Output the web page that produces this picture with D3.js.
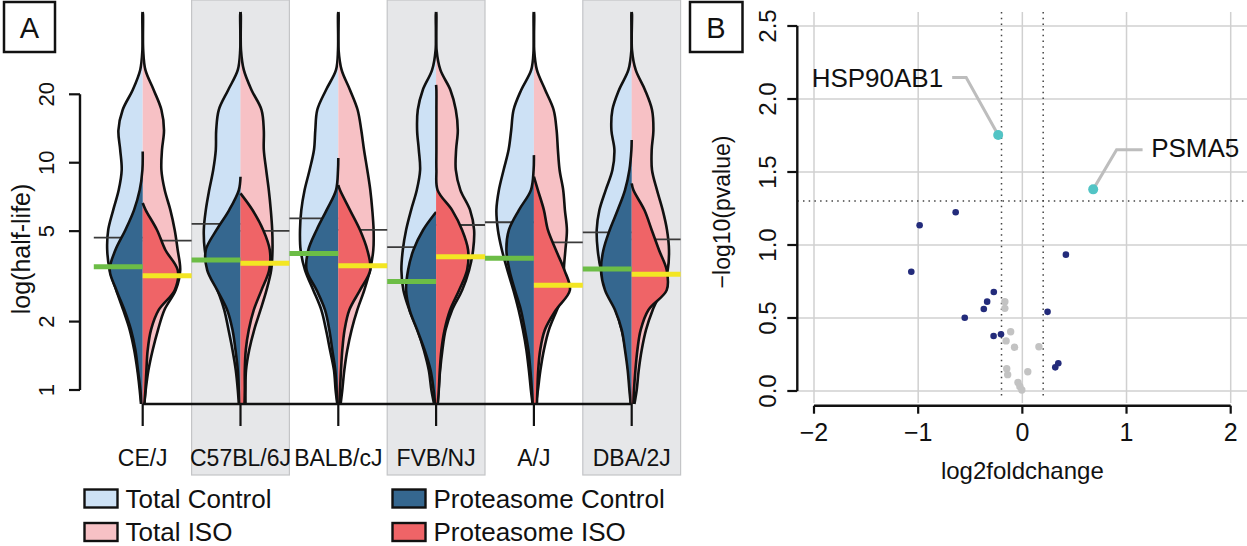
<!DOCTYPE html>
<html>
<head>
<meta charset="utf-8">
<script src="https://cdn.jsdelivr.net/npm/d3@7"></script>
<style>
  body { margin: 0; background: #fff; }
  svg { display: block; }
  text { font-family: "Liberation Sans", Arial, Helvetica, sans-serif; fill: #111; }
</style>
</head>
<body>
<svg id="chart" width="1247" height="546"></svg>
<script>
// ---------- panel A data: half-life densities per strain ----------
const strains = ["CE/J", "C57BL/6J", "BALB/cJ", "FVB/NJ", "A/J", "DBA/2J"];

// half-life levels at which violin widths were read (bottom -> top)
const levels = [0.868, 1.0, 1.22, 1.5, 1.84, 2.25, 2.75, 3.37, 4.13, 5.06,
                6.19, 7.58, 9.29, 11.4, 13.9, 17.1, 20.9, 25.6, 31.3, 45];

// density at each level (one row per strain)
const totalControl = [
  [1.7, 3, 5.3, 8.5, 13, 19.5, 26.5, 33, 35.5, 34.5, 29.5, 24, 21, 22.5, 24.3, 20, 10, 2.5, 0.3, 0.3],
  [1.7, 2.7, 4.7, 8, 12, 16.3, 23, 31.3, 35.7, 36.7, 34.7, 31.3, 27.3, 24.7, 24.3, 21.7, 12.3, 2.7, 0.3, 0.3],
  [1, 2.7, 4.3, 8.3, 12.3, 17, 25, 33.3, 37.7, 38.3, 37, 33.7, 28.7, 24.3, 23, 21, 12.3, 2.3, 0.3, 0.3],
  [2, 4.7, 7.3, 12.3, 18.7, 26.7, 32.7, 34.7, 33.3, 30, 25, 19.3, 16, 17.3, 19, 18.3, 13.3, 4, 0.5, 0.3],
  [1.3, 3, 5, 7.5, 11, 15.3, 20.5, 26.5, 32, 36, 37.5, 35, 30.3, 25.3, 22.7, 20.3, 12.7, 2.7, 0.3, 0.3],
  [0.8, 1.7, 3.3, 6, 10, 16, 24, 30.7, 34, 35, 32.3, 26, 19.3, 17.3, 20.3, 19.3, 12.7, 3.3, 0.3, 0.3]
];
const totalISO = [
  [1.5, 3, 5.7, 10, 15.3, 21.7, 33, 37.5, 35, 32, 27.7, 22, 18.7, 19.3, 21.3, 18.7, 11, 2.7, 0.5, 0.3],
  [5, 5, 5.5, 8.7, 13.7, 20, 26, 30.7, 32, 31.7, 30.3, 28.3, 25.7, 23.3, 23.3, 21, 11, 3.3, 0.5, 0.3],
  [2.3, 4, 6, 9, 13.3, 19, 26, 31.7, 35, 35.3, 34, 32, 29, 25.7, 23, 19.3, 11.7, 3.3, 0.3, 0.3],
  [1.5, 2.5, 4, 6.3, 9.5, 16, 26, 33, 37, 38, 34, 24.3, 19.7, 20, 21.7, 19.7, 14.3, 4.3, 0.5, 0.3],
  [2, 4, 6.5, 10, 15, 23, 31, 30, 31.5, 33, 31, 29.3, 25.7, 24, 22.7, 19.7, 11.3, 3, 0.3, 0.3],
  [2.7, 5, 7, 10, 14.3, 21, 30, 36, 37.3, 35.3, 31, 25.3, 20.3, 20, 21.7, 20.3, 13.3, 4, 0.3, 0.3]
];
const protControl = [
  [1.3, 2.3, 4.7, 7.3, 11.7, 18.3, 26.3, 33, 27.3, 17.3, 8.7, 3, 0.3, 0, 0, 0, 0, 0, 0, 0],
  [1, 1.7, 2.7, 5, 8, 13.3, 23.3, 33.3, 34.7, 24, 11.3, 1.7, 0, 0, 0, 0, 0, 0, 0, 0],
  [0.8, 1.7, 3, 6, 9, 13.3, 21.7, 31.7, 30, 21.7, 11.7, 2.3, 0.3, 0, 0, 0, 0, 0, 0, 0],
  [1, 2.5, 5.5, 11.5, 19, 26.5, 30, 28, 22.7, 13, 0, 0, 0, 0, 0, 0, 0, 0, 0, 0],
  [1, 2, 3.5, 5.5, 9, 13, 19, 24.5, 27.5, 25, 15, 3, 0.3, 0, 0, 0, 0, 0, 0, 0],
  [1, 2.3, 4, 6.7, 10, 16.7, 26.7, 30.7, 28.3, 22, 14, 6.7, 2.3, 0.3, 0, 0, 0, 0, 0, 0]
];
const protISO = [
  [1.7, 2.7, 3.7, 5, 8.3, 16, 32, 35, 22.7, 14.3, 3, 0, 0, 0, 0, 0, 0, 0, 0, 0],
  [4, 4.3, 4.3, 5.3, 8.3, 13.3, 21, 28.7, 29.3, 22.7, 12, 0, 0, 0, 0, 0, 0, 0, 0, 0],
  [1, 1.7, 2.7, 4, 6.3, 11, 21.7, 32, 29, 21.7, 11.7, 1.7, 0, 0, 0, 0, 0, 0, 0, 0],
  [1.7, 2.7, 3.7, 5.3, 8.5, 14, 23, 31, 32, 26, 16, 1.5, 0.3, 0.3, 0.3, 0.3, 0.3, 0, 0, 0],
  [3, 3.5, 4.3, 6.3, 11, 22, 36, 30.5, 22, 14, 10, 4, 0, 0, 0, 0, 0, 0, 0, 0],
  [1.7, 2.3, 3.7, 5.7, 9, 16.7, 35, 35, 27.3, 20, 12.7, 1.7, 0, 0, 0, 0, 0, 0, 0, 0]
];
// highest half-life reached by each violin
const totalTop = [46, 46, 46, 46, 46, 46];
const protControlTop = [11.2, 8.68, 10.5, 6.07, 10.8, 12.6];
const protISOTop = [6.65, 7.33, 7.98, 22.0, 8.68, 8.11];

// medians
const medTotalControl = [4.68, 5.38, 5.69, 4.25, 5.47, 4.94];
const medTotalISO     = [4.54, 5.01, 5.06, 5.32, 4.46, 4.60];
const medProtControl  = [3.49, 3.73, 3.99, 3.00, 3.80, 3.41];
const medProtISO      = [3.18, 3.61, 3.52, 3.86, 2.89, 3.23];

const yTicksA = [1, 2, 5, 10, 20];
const legendItems = ["Total Control", "Total ISO", "Proteasome Control", "Proteasome ISO"];

// ---------- panel B data: volcano plot ----------
const sigPoints = [ // [log2foldchange, -log10(pvalue)]
  [-0.986, 1.135], [-0.64, 1.224], [-1.066, 0.817], [-0.553, 0.502],
  [-0.274, 0.678], [-0.338, 0.612], [-0.37, 0.562], [-0.276, 0.377],
  [-0.205, 0.389], [0.242, 0.542], [0.418, 0.934], [0.345, 0.19], [0.316, 0.162]
];
const nsPoints = [
  [-0.168, 0.612], [-0.168, 0.566], [-0.112, 0.406], [-0.156, 0.343],
  [-0.075, 0.300], [0.159, 0.303], [-0.15, 0.153], [-0.141, 0.112],
  [0.052, 0.132], [-0.042, 0.058], [-0.024, 0.031], [-0.005, 0.007]
];
const hitPoints = [
  { name: "HSP90AB1", fc: -0.232, p: 1.753 },
  { name: "PSMA5", fc: 0.68, p: 1.381 }
];
const fcCut = [-0.2, 0.2];
const pCut = 1.301;
const xTicksB = [-2, -1, 0, 1, 2];
const yTicksB = [0, 0.5, 1, 1.5, 2, 2.5];

// ---------- colours ----------
const colTotalControl = "#cde1f5", colTotalISO = "#f7c1c5";
const colProtControl = "#35678f", colProtISO = "#ef6467";
const colGreen = "#6cbd46", colYellow = "#f3e623";

const svg = d3.select("#chart");
const minus = s => String(s).replace("-", "\u2212");

////////////////////////////////////
// PANEL A
////////////////////////////////////
const A = svg.append("g");
const x = d3.scaleBand().domain(strains).range([93.8, 680.6]);
const bw = x.bandwidth();
const cx = s => x(s) + bw / 2;
const y = d3.scaleLog().domain([1, 20]).range([390, 94.3]);
const dens = d3.scaleLinear().domain([0, 50]).range([0, 50]);

// grey columns
strains.forEach((s, i) => {
  if (i % 2 === 1) {
    A.append("rect")
      .attr("x", x(s)).attr("y", 0)
      .attr("width", bw).attr("height", 475)
      .attr("fill", "#e6e7e9").attr("stroke", "#c4c5c7").attr("stroke-width", 1.2);
  }
});

const curve = d3.line().curve(d3.curveCatmullRom.alpha(0.5));

function halfViolin(g, c, widths, top, side, fill) {
  const pts = [[c, y(top)]];
  for (let k = levels.length - 1; k >= 0; k--) {
    if (levels[k] < top) pts.push([c + side * dens(widths[k]), y(levels[k])]);
  }
  const outline = curve(pts);
  const yb = y(levels[0]);
  g.append("path").attr("d", outline + `L${c},${yb}Z`).attr("fill", fill).attr("stroke", "none");
  g.append("path").attr("d", outline).attr("fill", "none")
    .attr("stroke", "#111").attr("stroke-width", 2.6).attr("stroke-linejoin", "round");
}

function medLine(g, c, v, side, color, w) {
  g.append("line")
    .attr("x1", c).attr("x2", c + side * bw / 2)
    .attr("y1", y(v)).attr("y2", y(v))
    .attr("stroke", color).attr("stroke-width", w);
}

strains.forEach((s, i) => {
  const c = cx(s);
  const g = A.append("g");
  halfViolin(g, c, totalControl[i], totalTop[i], -1, colTotalControl);
  halfViolin(g, c, totalISO[i], totalTop[i], 1, colTotalISO);
  medLine(g, c, medTotalControl[i], -1, "#3a3a3a", 1.8);
  medLine(g, c, medTotalISO[i], 1, "#3a3a3a", 1.8);
  halfViolin(g, c, protControl[i], protControlTop[i], -1, colProtControl);
  halfViolin(g, c, protISO[i], protISOTop[i], 1, colProtISO);
  medLine(g, c, medProtControl[i], -1, colGreen, 5);
  medLine(g, c, medProtISO[i], 1, colYellow, 5);
});

// bottom axis
const yBase = 404;
A.append("line")
  .attr("x1", cx(strains[0])).attr("x2", cx(strains[strains.length - 1]))
  .attr("y1", yBase).attr("y2", yBase)
  .attr("stroke", "#111").attr("stroke-width", 2.4);
strains.forEach(s => {
  A.append("line").attr("x1", cx(s)).attr("x2", cx(s))
    .attr("y1", yBase).attr("y2", 426)
    .attr("stroke", "#111").attr("stroke-width", 2.2);
  A.append("text").attr("x", cx(s)).attr("y", 458)
    .attr("text-anchor", "middle").attr("dominant-baseline", "central")
    .style("font-size", "23px").text(s);
});

// left axis
A.append("line").attr("x1", 80).attr("x2", 80)
  .attr("y1", y(20)).attr("y2", y(1))
  .attr("stroke", "#111").attr("stroke-width", 2.4);
yTicksA.forEach(t => {
  A.append("line").attr("x1", 69).attr("x2", 80)
    .attr("y1", y(t)).attr("y2", y(t))
    .attr("stroke", "#111").attr("stroke-width", 2.2);
  A.append("text")
    .attr("transform", `translate(46.5,${y(t)}) rotate(-90)`)
    .attr("text-anchor", "middle").attr("dominant-baseline", "central")
    .style("font-size", "22px").text(t);
});
A.append("text")
  .attr("transform", "translate(21,249) rotate(-90)")
  .attr("text-anchor", "middle").attr("dominant-baseline", "central")
  .style("font-size", "25px").text("log(half-life)");

// panel letter
A.append("rect").attr("x", 4).attr("y", 2).attr("width", 51).attr("height", 50)
  .attr("fill", "#fff").attr("stroke", "#111").attr("stroke-width", 2.5);
A.append("text").attr("x", 29.5).attr("y", 27.5)
  .attr("text-anchor", "middle").attr("dominant-baseline", "central")
  .style("font-size", "29px").text("A");

// legend
const legColors = [colTotalControl, colTotalISO, colProtControl, colProtISO];
legendItems.forEach((lab, i) => {
  const lx = i < 2 ? 84.5 : 392.5;
  const ly = i % 2 === 0 ? 498.5 : 532;
  A.append("rect").attr("x", lx).attr("y", ly - 9).attr("width", 33).attr("height", 18)
    .attr("fill", legColors[i]).attr("stroke", "#111").attr("stroke-width", 2.4);
  A.append("text").attr("x", lx + 41).attr("y", ly)
    .attr("dominant-baseline", "central")
    .style("font-size", "26px").text(lab);
});

////////////////////////////////////
// PANEL B
////////////////////////////////////
const B = svg.append("g");
const xb = d3.scaleLinear().domain([-2, 2]).range([814, 1230.7]);
const yb = d3.scaleLinear().domain([0, 2.5]).range([391, 26]);
const plotLeft = 797.3, plotRight = 1247, plotTop = 12, plotBottom = 403;

// grid
xTicksB.forEach(t => {
  B.append("line").attr("x1", xb(t)).attr("x2", xb(t))
    .attr("y1", plotTop).attr("y2", plotBottom)
    .attr("stroke", "#d0d0d0").attr("stroke-width", 1.5);
});
yTicksB.forEach(t => {
  B.append("line").attr("x1", plotLeft).attr("x2", plotRight)
    .attr("y1", yb(t)).attr("y2", yb(t))
    .attr("stroke", "#d0d0d0").attr("stroke-width", 1.5);
});

// thresholds
fcCut.forEach(v => {
  B.append("line").attr("x1", xb(v)).attr("x2", xb(v))
    .attr("y1", plotTop).attr("y2", 399)
    .attr("stroke", "#444").attr("stroke-width", 1.5).attr("stroke-dasharray", "1.5 4.2");
});
B.append("line").attr("x1", plotLeft).attr("x2", plotRight)
  .attr("y1", yb(pCut)).attr("y2", yb(pCut))
  .attr("stroke", "#444").attr("stroke-width", 1.5).attr("stroke-dasharray", "1.5 4.2");

// axes
B.append("line").attr("x1", plotLeft).attr("x2", plotLeft)
  .attr("y1", yb(0)).attr("y2", yb(2.5))
  .attr("stroke", "#111").attr("stroke-width", 2.4);
yTicksB.forEach(t => {
  B.append("line").attr("x1", plotLeft - 10).attr("x2", plotLeft)
    .attr("y1", yb(t)).attr("y2", yb(t))
    .attr("stroke", "#111").attr("stroke-width", 2.2);
  B.append("text")
    .attr("transform", `translate(767,${yb(t)}) rotate(-90)`)
    .attr("text-anchor", "middle").attr("dominant-baseline", "central")
    .style("font-size", "24px").text(t.toFixed(1));
});
const yAxisX = 405.7;
B.append("line").attr("x1", xb(-2)).attr("x2", xb(2))
  .attr("y1", yAxisX).attr("y2", yAxisX)
  .attr("stroke", "#111").attr("stroke-width", 2.4);
xTicksB.forEach(t => {
  B.append("line").attr("x1", xb(t)).attr("x2", xb(t))
    .attr("y1", yAxisX).attr("y2", yAxisX + 8)
    .attr("stroke", "#111").attr("stroke-width", 2.2);
  B.append("text").attr("x", xb(t)).attr("y", 432)
    .attr("text-anchor", "middle").attr("dominant-baseline", "central")
    .style("font-size", "25px").text(minus(t));
});
B.append("text").attr("x", xb(0)).attr("y", 470)
  .attr("text-anchor", "middle").attr("dominant-baseline", "central")
  .style("font-size", "24px").text("log2foldchange");
B.append("text")
  .attr("transform", "translate(722,212) rotate(-90)")
  .attr("text-anchor", "middle").attr("dominant-baseline", "central")
  .style("font-size", "23px").text("\u2212log10(pvalue)");

// label leaders
const leaders = [
  { elbow: [-32, -57.5], end: [-46, -57.5], text: [-55, -57.5], anchor: "end" },
  { elbow: [23.4, -39.6], end: [49.4, -39.6], text: [58, -41], anchor: "start" }
];
hitPoints.forEach((d, i) => {
  const px = xb(d.fc), py = yb(d.p), L = leaders[i];
  B.append("polyline")
    .attr("points", [[px, py], [px + L.elbow[0], py + L.elbow[1]], [px + L.end[0], py + L.end[1]]].join(" "))
    .attr("fill", "none").attr("stroke", "#bdbdbd").attr("stroke-width", 3);
  B.append("text").attr("x", px + L.text[0]).attr("y", py + L.text[1])
    .attr("text-anchor", L.anchor).attr("dominant-baseline", "central")
    .style("font-size", "26px").text(d.name);
});

// points
B.selectAll("circle.ns").data(nsPoints).join("circle")
  .attr("cx", d => xb(d[0])).attr("cy", d => yb(d[1])).attr("r", 3.7)
  .attr("fill", "#c3c3c3");
B.selectAll("circle.sig").data(sigPoints).join("circle")
  .attr("cx", d => xb(d[0])).attr("cy", d => yb(d[1])).attr("r", 3.3)
  .attr("fill", "#232b7b");
B.selectAll("circle.hit").data(hitPoints).join("circle")
  .attr("cx", d => xb(d.fc)).attr("cy", d => yb(d.p)).attr("r", 5)
  .attr("fill", "#52c4c5");

// panel letter
B.append("rect").attr("x", 690).attr("y", 2).attr("width", 52.5).attr("height", 50)
  .attr("fill", "#fff").attr("stroke", "#111").attr("stroke-width", 2.5);
B.append("text").attr("x", 716).attr("y", 27.5)
  .attr("text-anchor", "middle").attr("dominant-baseline", "central")
  .style("font-size", "29px").text("B");
</script>
</body>
</html>
